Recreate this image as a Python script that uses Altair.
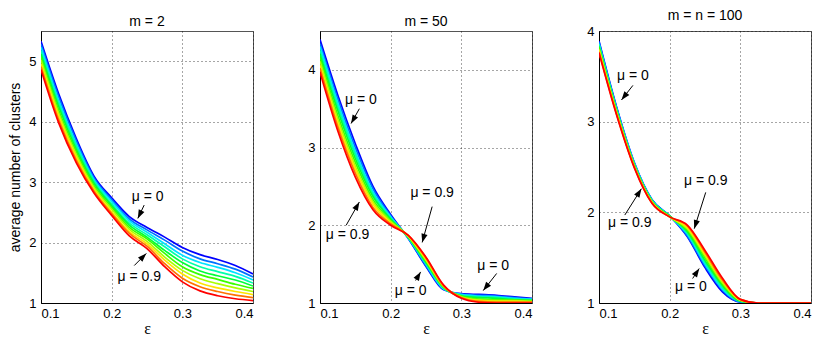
import math
import altair as alt
import pandas as pd

# ---------------- data ----------------
eps = [0.1, 0.125, 0.15, 0.175, 0.2, 0.225, 0.25, 0.275, 0.3, 0.325, 0.35, 0.375, 0.4]
mu_values = [0.0, 0.1, 0.2, 0.3, 0.4, 0.5, 0.6, 0.7, 0.8, 0.9]
mu_colors = ["#0000ff", "#0071ff", "#00e3ff", "#00ffaa", "#00ff39",
             "#39ff00", "#aaff00", "#ffe300", "#ff7100", "#ff0000"]

# average number of clusters, one row per mu (0 ... 0.9)
m2_curves = [
    [5.33, 4.46, 3.72, 3.10, 2.74, 2.43, 2.25, 2.09, 1.92, 1.80, 1.72, 1.62, 1.48],
    [5.28, 4.41, 3.68, 3.07, 2.71, 2.39, 2.21, 2.04, 1.86, 1.73, 1.65, 1.56, 1.43],
    [5.23, 4.35, 3.63, 3.04, 2.68, 2.36, 2.17, 1.98, 1.79, 1.67, 1.59, 1.50, 1.38],
    [5.17, 4.30, 3.59, 3.01, 2.64, 2.32, 2.13, 1.93, 1.73, 1.60, 1.52, 1.44, 1.33],
    [5.12, 4.25, 3.54, 2.98, 2.61, 2.29, 2.09, 1.87, 1.67, 1.53, 1.45, 1.38, 1.28],
    [5.07, 4.19, 3.50, 2.94, 2.58, 2.25, 2.06, 1.82, 1.60, 1.47, 1.39, 1.31, 1.24],
    [5.02, 4.14, 3.45, 2.91, 2.55, 2.22, 2.02, 1.76, 1.54, 1.40, 1.32, 1.25, 1.19],
    [4.96, 4.09, 3.41, 2.88, 2.51, 2.18, 1.98, 1.71, 1.48, 1.33, 1.25, 1.19, 1.14],
    [4.91, 4.03, 3.36, 2.85, 2.48, 2.15, 1.94, 1.65, 1.41, 1.27, 1.19, 1.13, 1.09],
    [4.86, 3.98, 3.32, 2.82, 2.45, 2.11, 1.90, 1.60, 1.35, 1.20, 1.12, 1.07, 1.04],
]
m50_curves = [
    [4.39, 3.68, 3.05, 2.50, 2.14, 1.83, 1.47, 1.17, 1.12, 1.11, 1.10, 1.08, 1.06],
    [4.34, 3.63, 3.00, 2.47, 2.12, 1.83, 1.48, 1.18, 1.11, 1.10, 1.09, 1.07, 1.05],
    [4.30, 3.58, 2.95, 2.43, 2.11, 1.84, 1.50, 1.18, 1.11, 1.09, 1.08, 1.06, 1.05],
    [4.25, 3.53, 2.91, 2.40, 2.09, 1.84, 1.51, 1.19, 1.10, 1.08, 1.07, 1.05, 1.04],
    [4.20, 3.48, 2.86, 2.37, 2.08, 1.85, 1.52, 1.20, 1.09, 1.07, 1.06, 1.04, 1.03],
    [4.16, 3.42, 2.81, 2.33, 2.06, 1.85, 1.54, 1.20, 1.09, 1.05, 1.04, 1.04, 1.03],
    [4.11, 3.37, 2.76, 2.30, 2.05, 1.86, 1.55, 1.21, 1.08, 1.04, 1.03, 1.03, 1.02],
    [4.06, 3.32, 2.72, 2.27, 2.03, 1.86, 1.56, 1.22, 1.07, 1.03, 1.02, 1.02, 1.01],
    [4.02, 3.27, 2.67, 2.23, 2.02, 1.87, 1.58, 1.22, 1.07, 1.02, 1.01, 1.01, 1.01],
    [3.97, 3.22, 2.62, 2.20, 2.00, 1.87, 1.59, 1.23, 1.06, 1.01, 1.00, 1.00, 1.00],
]
m100_curves = [
    [3.89, 3.16, 2.55, 2.14, 1.96, 1.73, 1.39, 1.12, 1.01, 1.00, 1.00, 1.00, 1.00],
    [3.88, 3.15, 2.54, 2.14, 1.96, 1.74, 1.41, 1.14, 1.01, 1.00, 1.00, 1.00, 1.00],
    [3.86, 3.14, 2.54, 2.13, 1.96, 1.76, 1.43, 1.15, 1.02, 1.00, 1.00, 1.00, 1.00],
    [3.85, 3.13, 2.53, 2.13, 1.96, 1.77, 1.45, 1.17, 1.02, 1.00, 1.00, 1.00, 1.00],
    [3.83, 3.12, 2.52, 2.12, 1.96, 1.79, 1.47, 1.19, 1.02, 1.00, 1.00, 1.00, 1.00],
    [3.82, 3.11, 2.52, 2.12, 1.95, 1.80, 1.50, 1.20, 1.03, 1.00, 1.00, 1.00, 1.00],
    [3.80, 3.10, 2.51, 2.11, 1.95, 1.82, 1.52, 1.22, 1.03, 1.00, 1.00, 1.00, 1.00],
    [3.79, 3.09, 2.50, 2.11, 1.95, 1.83, 1.54, 1.24, 1.03, 1.00, 1.00, 1.00, 1.00],
    [3.77, 3.08, 2.50, 2.10, 1.95, 1.85, 1.56, 1.25, 1.04, 1.00, 1.00, 1.00, 1.00],
    [3.76, 3.07, 2.49, 2.10, 1.95, 1.86, 1.58, 1.27, 1.04, 1.00, 1.00, 1.00, 1.00],
]

panel_titles = ["m = 2", "m = 50", "m = n = 100"]
y_max = [5.5, 4.5, 4.0]
y_ticks = [[1, 2, 3, 4, 5], [1, 2, 3, 4], [1, 2, 3, 4]]

# annotations: label, text x, text y, arrow start x, y, arrow tip x, y
m2_notes = [
    ["μ = 0", 0.251, 2.76, 0.246, 2.62, 0.237, 2.40],
    ["μ = 0.9", 0.239, 1.43, 0.232, 1.62, 0.249, 1.82],
]
m50_notes = [
    ["μ = 0", 0.158, 3.61, 0.1557, 3.50, 0.144, 3.31],
    ["μ = 0.9", 0.139, 1.87, 0.137, 2.00, 0.1557, 2.30],
    ["μ = 0.9", 0.2587, 2.41, 0.2587, 2.24, 0.2446, 1.78],
    ["μ = 0", 0.2283, 1.16, 0.2353, 1.29, 0.2424, 1.40],
    ["μ = 0", 0.345, 1.48, 0.350, 1.38, 0.331, 1.16],
]
m100_notes = [
    ["μ = 0", 0.148, 3.50, 0.148, 3.40, 0.1318, 3.24],
    ["μ = 0.9", 0.1435, 1.88, 0.1365, 1.97, 0.160, 2.26],
    ["μ = 0.9", 0.251, 2.35, 0.251, 2.22, 0.2348, 1.82],
    ["μ = 0", 0.230, 1.18, 0.2325, 1.27, 0.2418, 1.38],
]

# ---------------- chart ----------------
W, H = 212, 272
SANS = "Liberation Sans"
SERIF = "Liberation Serif"
HEAD = "M0,0 L-0.36,1 L0.36,1 Z"


def panel(title, curves, ymax, yticks, notes, first):
    recs = []
    for mu, row in zip(mu_values, curves):
        for e, v in zip(eps, row):
            recs.append({"eps": e, "val": v, "mu": f"{mu:.1f}"})
    df = pd.DataFrame(recs)

    xs = alt.Scale(domain=[0.1, 0.4], nice=False, zero=False)
    ys = alt.Scale(domain=[1, ymax], nice=False, zero=False)
    xax = alt.Axis(values=[0.1, 0.2, 0.3, 0.4], format=".1f", title="ε",
                   titleFont=SERIF, titleFontSize=16, titlePadding=0, labelPadding=4)
    yax = alt.Axis(values=yticks, format="d",
                   title="average number of clusters" if first else None,
                   titlePadding=6)

    lines = alt.Chart(df).mark_line(strokeWidth=1.7, interpolate="monotone", clip=True).encode(
        x=alt.X("eps:Q", scale=xs, axis=xax),
        y=alt.Y("val:Q", scale=ys, axis=yax),
        color=alt.Color("mu:N", scale=alt.Scale(domain=[f"{m:.1f}" for m in mu_values],
                                                  range=mu_colors), legend=None),
    )

    sx = W / 0.3
    sy = H / (ymax - 1)
    nrec = []
    for lab, tx, ty, x1, y1, x2, y2 in notes:
        dx = (x2 - x1) * sx
        dys = -(y2 - y1) * sy
        ang = math.degrees(math.atan2(dx, -dys)) % 360
        nrec.append({"lab": lab, "tx": tx, "ty": ty, "x1": x1, "y1": y1,
                     "x2": x2, "y2": y2, "ang": ang})
    nd = pd.DataFrame(nrec)

    rules = alt.Chart(nd).mark_rule(color="black", strokeWidth=1).encode(
        x=alt.X("x1:Q", scale=xs), y=alt.Y("y1:Q", scale=ys),
        x2="x2:Q", y2="y2:Q")
    heads = alt.Chart(nd).mark_point(shape=HEAD, filled=True, size=300, color="black",
                                     opacity=1, strokeWidth=0).encode(
        x=alt.X("x2:Q", scale=xs), y=alt.Y("y2:Q", scale=ys),
        angle=alt.Angle("ang:Q", scale=None))
    texts = alt.Chart(nd).mark_text(font=SANS, fontSize=14, color="black").encode(
        x=alt.X("tx:Q", scale=xs), y=alt.Y("ty:Q", scale=ys), text="lab:N")

    return alt.layer(lines, rules, heads, texts).properties(
        width=W, height=H,
        title=alt.TitleParams(title, font=SANS, fontSize=14, fontWeight="normal",
                              offset=2, color="black"))


charts = [panel(t, c, ym, yt, n, i == 0) for i, (t, c, ym, yt, n) in enumerate(
    zip(panel_titles, [m2_curves, m50_curves, m100_curves], y_max, y_ticks,
        [m2_notes, m50_notes, m100_notes]))]

chart = alt.hconcat(*charts, spacing=67, bounds="flush").properties(
    padding={"left": 0, "top": 0, "right": 0, "bottom": 0},
    background="white",
).configure_view(stroke="#555", strokeWidth=1).configure_axis(
    labelFont=SANS, labelFontSize=13, labelColor="black", labelPadding=5,
    titleFont=SANS, titleFontSize=14, titleFontWeight="normal", titleColor="black",
    domainColor="black", domainWidth=1, ticks=False,
    grid=True, gridColor="#000", gridDash=[1, 3], gridWidth=1, gridOpacity=0.7,
)

chart.save("out.html", embed_options={"renderer": "svg", "actions": False})
